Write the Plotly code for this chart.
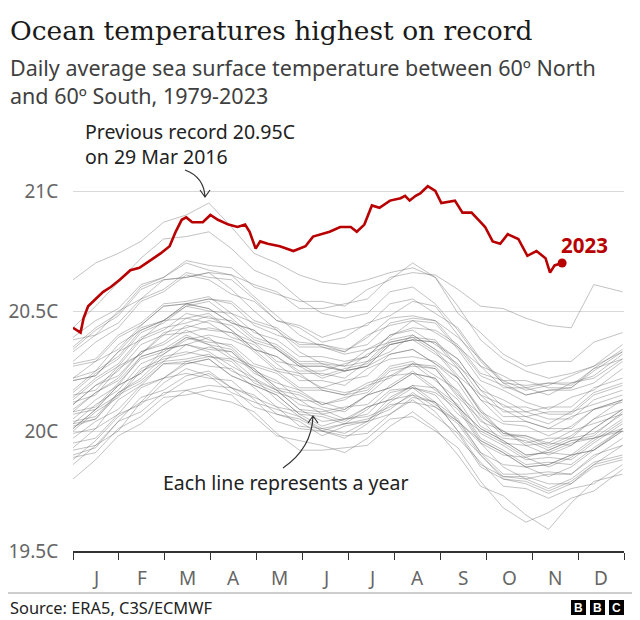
import plotly.graph_objects as go

# ---------------- data ----------------
DAYS = [0, 15, 30, 45, 60, 75, 90, 105, 120, 135, 150, 165, 180, 195, 210,
        225, 240, 255, 270, 285, 300, 315, 330, 345, 364]
MONTHS = ["J", "F", "M", "A", "M", "J", "J", "A", "S", "O", "N", "D"]
Y_TICKS = [19.5, 20, 20.5, 21]
Y_TICK_TEXT = ["19.5C", "20C", "20.5C", "21C"]

y1979 = [19.88,19.96,20.06,20.12,20.22,20.24,20.22,20.21,20.13,20.04,20.01,20.00,19.97,20.03,20.11,20.12,20.10,20.03,19.90,19.81,19.81,19.78,19.78,19.86,19.94]
y1980 = [19.99,20.01,20.13,20.19,20.28,20.28,20.30,20.23,20.19,20.15,20.07,20.02,20.05,20.07,20.16,20.18,20.11,20.04,19.95,19.85,19.80,19.82,19.82,19.90,19.94]
y1981 = [19.95,19.97,20.07,20.11,20.20,20.26,20.23,20.16,20.12,20.09,20.06,20.00,19.98,19.99,20.07,20.14,20.12,20.00,19.86,19.81,19.80,19.76,19.80,19.87,19.90]
y1982 = [19.90,19.93,20.04,20.08,20.16,20.17,20.19,20.18,20.10,20.07,20.04,19.98,20.02,20.04,20.14,20.19,20.18,20.07,20.00,19.95,19.89,19.92,19.96,19.98,20.08]
y1983 = [20.11,20.19,20.23,20.33,20.36,20.42,20.38,20.35,20.26,20.18,20.11,20.09,20.05,20.10,20.13,20.15,20.12,20.00,19.90,19.80,19.78,19.74,19.78,19.85,19.88]
y1984 = [19.89,19.91,20.01,20.06,20.14,20.15,20.17,20.15,20.06,19.98,19.96,19.94,19.91,19.97,20.05,20.06,20.00,19.93,19.79,19.68,19.62,19.66,19.72,19.75,19.84]
y1985 = [19.80,19.88,19.98,20.03,20.11,20.17,20.14,20.12,20.08,19.99,19.92,19.92,19.93,19.94,20.02,20.08,20.01,19.90,19.77,19.73,19.65,19.59,19.70,19.79,19.82]
y1986 = [19.92,19.94,20.04,20.14,20.17,20.23,20.25,20.18,20.14,20.10,20.02,20.01,20.03,20.04,20.12,20.18,20.15,20.04,19.96,19.91,19.85,19.86,19.90,19.92,20.00]
y1987 = [20.01,20.09,20.19,20.24,20.34,20.36,20.39,20.31,20.27,20.24,20.17,20.17,20.15,20.17,20.26,20.28,20.27,20.16,20.02,19.97,19.96,19.92,19.96,19.97,20.01]
y1988 = [20.05,20.13,20.19,20.31,20.34,20.40,20.36,20.30,20.22,20.17,20.09,20.04,20.05,20.06,20.10,20.15,20.08,19.97,19.87,19.77,19.76,19.72,19.76,19.78,19.86]
y1989 = [19.86,19.94,20.00,20.12,20.15,20.21,20.24,20.18,20.15,20.07,20.05,20.00,20.03,20.05,20.09,20.16,20.10,20.04,19.91,19.82,19.82,19.83,19.82,19.89,19.97]
y1990 = [20.00,20.08,20.14,20.25,20.29,20.36,20.34,20.33,20.25,20.17,20.15,20.10,20.08,20.15,20.23,20.24,20.22,20.10,20.01,19.96,19.90,19.91,19.90,19.97,20.00]
y1991 = [20.02,20.05,20.16,20.22,20.31,20.33,20.31,20.30,20.26,20.18,20.16,20.11,20.14,20.16,20.25,20.27,20.26,20.15,20.07,19.98,19.98,19.95,20.00,20.03,20.07]
y1992 = [20.09,20.16,20.21,20.31,20.34,20.36,20.33,20.27,20.22,20.13,20.06,20.01,19.99,20.04,20.07,20.13,20.06,19.99,19.85,19.80,19.79,19.75,19.79,19.86,19.89]
y1993 = [19.93,20.01,20.07,20.18,20.22,20.29,20.27,20.26,20.18,20.10,20.08,20.07,20.04,20.10,20.13,20.19,20.12,20.05,19.91,19.86,19.85,19.81,19.85,19.92,20.01]
y1994 = [20.03,20.05,20.15,20.20,20.28,20.29,20.31,20.29,20.20,20.16,20.13,20.07,20.09,20.15,20.18,20.24,20.22,20.10,20.01,19.96,19.90,19.91,19.95,19.97,20.05]
y1995 = [20.08,20.10,20.20,20.30,20.33,20.39,20.36,20.34,20.25,20.21,20.13,20.12,20.09,20.15,20.18,20.24,20.17,20.10,19.96,19.91,19.85,19.86,19.90,19.92,20.00]
y1996 = [19.97,20.04,20.09,20.19,20.22,20.28,20.30,20.23,20.19,20.15,20.07,20.06,20.03,20.09,20.17,20.18,20.16,20.09,19.95,19.90,19.89,19.85,19.89,19.96,20.04]
y1997 = [20.07,20.09,20.19,20.24,20.32,20.38,20.40,20.38,20.34,20.31,20.25,20.25,20.28,20.31,20.40,20.43,20.42,20.36,20.24,20.21,20.17,20.19,20.23,20.27,20.36]
y1998 = [20.39,20.46,20.51,20.61,20.64,20.70,20.67,20.65,20.56,20.48,20.40,20.35,20.32,20.34,20.37,20.39,20.33,20.22,20.08,19.99,19.97,19.93,19.97,19.99,20.07]
y1999 = [20.04,20.06,20.16,20.21,20.29,20.30,20.32,20.25,20.21,20.17,20.09,20.08,20.10,20.11,20.19,20.25,20.18,20.11,19.97,19.92,19.86,19.87,19.86,19.93,20.01]
y2000 = [20.01,20.09,20.15,20.26,20.30,20.32,20.35,20.33,20.24,20.20,20.17,20.11,20.13,20.19,20.22,20.28,20.26,20.14,20.05,19.95,19.94,19.90,19.94,20.01,20.09]
y2001 = [20.15,20.17,20.27,20.32,20.40,20.47,20.45,20.39,20.36,20.28,20.21,20.21,20.19,20.26,20.30,20.31,20.29,20.22,20.08,20.03,20.02,19.98,20.02,20.09,20.12]
y2002 = [20.13,20.21,20.27,20.38,20.42,20.49,20.47,20.46,20.38,20.35,20.28,20.23,20.26,20.28,20.37,20.39,20.38,20.27,20.19,20.10,20.10,20.07,20.07,20.15,20.19]
y2003 = [20.22,20.25,20.36,20.42,20.46,20.53,20.51,20.45,20.42,20.34,20.27,20.27,20.25,20.27,20.36,20.38,20.32,20.26,20.13,20.04,20.04,20.01,20.01,20.09,20.13]
y2004 = [20.14,20.22,20.28,20.39,20.43,20.45,20.48,20.42,20.34,20.31,20.24,20.24,20.22,20.29,20.33,20.40,20.34,20.23,20.15,20.06,20.06,20.03,20.08,20.11,20.15]
y2005 = [20.17,20.25,20.31,20.42,20.46,20.53,20.51,20.45,20.42,20.34,20.27,20.27,20.25,20.32,20.36,20.38,20.37,20.26,20.13,20.09,20.04,20.01,20.06,20.09,20.13]
y2006 = [20.11,20.19,20.25,20.36,20.40,20.41,20.43,20.41,20.37,20.29,20.27,20.22,20.25,20.27,20.36,20.38,20.37,20.30,20.17,20.13,20.08,20.10,20.10,20.18,20.22]
y2007 = [20.21,20.23,20.33,20.38,20.46,20.47,20.49,20.42,20.34,20.26,20.24,20.17,20.15,20.20,20.23,20.28,20.21,20.13,19.99,19.94,19.88,19.89,19.88,19.95,20.03]
y2008 = [20.03,20.11,20.17,20.28,20.32,20.39,20.37,20.36,20.28,20.25,20.18,20.18,20.16,20.18,20.27,20.29,20.23,20.17,20.04,20.00,19.95,19.97,19.97,20.05,20.09]
y2009 = [20.12,20.15,20.26,20.32,20.41,20.43,20.46,20.44,20.37,20.34,20.28,20.28,20.27,20.34,20.39,20.46,20.41,20.35,20.23,20.19,20.15,20.17,20.18,20.25,20.33]
y2010 = [20.34,20.42,20.48,20.59,20.63,20.64,20.66,20.59,20.50,20.42,20.33,20.28,20.25,20.27,20.32,20.34,20.28,20.20,20.06,20.00,19.94,19.95,19.94,20.01,20.09]
y2011 = [20.08,20.16,20.22,20.33,20.37,20.44,20.42,20.41,20.33,20.25,20.23,20.18,20.21,20.23,20.32,20.34,20.28,20.22,20.09,19.99,19.98,19.94,19.98,20.05,20.13]
y2012 = [20.16,20.24,20.30,20.41,20.45,20.52,20.50,20.49,20.41,20.38,20.31,20.31,20.29,20.31,20.40,20.42,20.36,20.30,20.17,20.08,20.08,20.05,20.05,20.13,20.17]
y2013 = [20.21,20.23,20.33,20.43,20.46,20.52,20.54,20.47,20.39,20.36,20.29,20.29,20.27,20.29,20.38,20.40,20.34,20.28,20.15,20.11,20.06,20.08,20.08,20.16,20.20]
y2014 = [20.22,20.29,20.34,20.44,20.52,20.53,20.55,20.53,20.44,20.40,20.37,20.36,20.33,20.39,20.47,20.48,20.46,20.39,20.30,20.20,20.19,20.20,20.19,20.26,20.34]
y2015 = [20.33,20.40,20.45,20.55,20.63,20.64,20.66,20.65,20.61,20.58,20.51,20.51,20.53,20.55,20.64,20.66,20.65,20.59,20.52,20.51,20.47,20.44,20.43,20.61,20.58]
y2016 = [20.63,20.70,20.74,20.79,20.87,20.90,20.95,20.85,20.74,20.70,20.65,20.62,20.61,20.63,20.66,20.68,20.64,20.52,20.38,20.30,20.25,20.22,20.24,20.27,20.33]
y2017 = [20.38,20.40,20.50,20.55,20.59,20.66,20.64,20.63,20.55,20.46,20.43,20.37,20.39,20.45,20.48,20.54,20.52,20.40,20.27,20.23,20.18,20.20,20.20,20.22,20.30]
y2018 = [20.27,20.29,20.39,20.44,20.52,20.53,20.55,20.54,20.46,20.43,20.36,20.36,20.34,20.36,20.45,20.47,20.46,20.35,20.27,20.18,20.18,20.15,20.20,20.23,20.32]
y2019 = [20.35,20.43,20.49,20.60,20.64,20.71,20.69,20.68,20.60,20.57,20.54,20.54,20.52,20.59,20.63,20.70,20.64,20.49,20.41,20.32,20.27,20.29,20.29,20.37,20.41]
y2020 = [20.43,20.52,20.62,20.72,20.80,20.81,20.83,20.76,20.67,20.63,20.55,20.49,20.47,20.49,20.58,20.60,20.53,20.42,20.29,20.20,20.15,20.17,20.17,20.20,20.29]
y2021 = [20.28,20.30,20.40,20.45,20.53,20.54,20.56,20.49,20.45,20.42,20.35,20.35,20.33,20.40,20.44,20.46,20.45,20.34,20.21,20.17,20.12,20.09,20.14,20.17,20.26]
y2022 = [20.29,20.37,20.43,20.54,20.58,20.65,20.63,20.57,20.54,20.46,20.44,20.39,20.42,20.44,20.53,20.55,20.49,20.43,20.30,20.21,20.21,20.18,20.18,20.26,20.30]

PAST_YEARS = [y1979, y1980, y1981, y1982, y1983, y1984, y1985, y1986, y1987,
              y1988, y1989, y1990, y1991, y1992, y1993, y1994, y1995, y1996,
              y1997, y1998, y1999, y2000, y2001, y2002, y2003, y2004, y2005,
              y2006, y2007, y2008, y2009, y2010, y2011, y2012, y2013, y2014,
              y2015, y2016, y2017, y2018, y2019, y2020, y2021, y2022]

DAYS_2023 = [0,3,5,7,10,15,20,25,31,38,44,51,58,64,68,72,75,79,86,91,96,103,
             109,114,117,121,124,129,137,146,150,154,159,164,170,177,184,188,
             193,198,203,210,217,220,223,227,230,235,240,244,253,258,264,270,
             273,278,283,288,295,301,307,313,316,319,324]
TEMP_2023 = [20.43,20.42,20.41,20.47,20.52,20.55,20.58,20.60,20.63,20.67,20.68,
             20.71,20.74,20.77,20.83,20.88,20.89,20.87,20.87,20.90,20.88,20.86,
             20.85,20.86,20.83,20.76,20.79,20.78,20.77,20.75,20.76,20.77,20.81,
             20.82,20.83,20.85,20.85,20.83,20.86,20.94,20.93,20.96,20.97,20.98,
             20.96,20.98,20.99,21.02,21.00,20.95,20.96,20.91,20.91,20.87,20.85,
             20.79,20.78,20.82,20.80,20.73,20.75,20.72,20.66,20.69,20.70]

# ---------------- layout constants ----------------
# The page body has an 8px margin, so the figure is 8px smaller and every
# position below is given in page pixels of the 640x620 window.
OFF = 8
W, H = 640 - OFF, 620 - OFF
PL, PR, PT, PB = 73, 624, 107, 551          # plot area in page pixels
ML, MR, MT, MB = PL - OFF, 640 - PR, PT - OFF, 620 - PB
PW, PH = PR - PL, PB - PT
YMIN, YMAX = 19.5, 21.35
RED = "#b80000"
SANS = "Noto Sans, Open Sans, sans-serif"


def px(xp):
    return (xp - PL) / PW


def py(yp):
    return (PB - yp) / PH


def dx(xp):  # page pixel -> day
    return (xp - PL) / PW * 365


def dy(yp):  # page pixel -> temperature
    return YMAX - (yp - PT) / PH * (YMAX - YMIN)


fig = go.Figure()
for vals in PAST_YEARS:
    fig.add_trace(go.Scatter(x=DAYS, y=vals, mode="lines",
                             line=dict(color="rgba(95,95,95,0.38)", width=1),
                             hoverinfo="skip", showlegend=False))
fig.add_trace(go.Scatter(x=DAYS_2023, y=TEMP_2023, mode="lines",
                         line=dict(color=RED, width=2.6),
                         hoverinfo="skip", showlegend=False))
fig.add_trace(go.Scatter(x=DAYS_2023[-1:], y=TEMP_2023[-1:], mode="markers",
                         marker=dict(color=RED, size=9),
                         hoverinfo="skip", showlegend=False))

month_edges = [i * 365 / 12 for i in range(13)]
annotations = []
for i, m in enumerate(MONTHS):
    annotations.append(dict(x=(i + 0.5) * 365 / 12, xref="x", y=py(578), yref="paper",
                            text=m, showarrow=False, xanchor="center", yanchor="middle",
                            font=dict(family=SANS, size=19, color="#666666")))


def label(xp, yp, text, size, color="#222222", family=SANS):
    return dict(x=px(xp), y=py(yp), xref="paper", yref="paper", xanchor="left",
                yanchor="middle", align="left", showarrow=False, text=text,
                font=dict(family=family, size=size, color=color))


annotations += [
    label(8, 31, "Ocean temperatures highest on record", 26.5, "#1a1a1a",
          "DejaVu Serif, serif"),
    label(8, 67, "Daily average sea surface temperature between 60º North", 21.5, "#404040"),
    label(8, 95, "and 60º South, 1979-2023", 21.5, "#404040"),
    label(83, 131, "Previous record 20.95C", 19.5),
    label(83, 156, "on 29 Mar 2016", 19.5),
    label(161, 482, "Each line represents a year", 19.5),
    label(559, 245, "<b>2023</b>", 20.5, RED),
    label(8, 607, "Source: ERA5, C3S/ECMWF", 16.4),
]

shapes = []
# curved arrows
a1 = (f"M {dx(185)},{dy(170)} Q {dx(204)},{dy(177)} {dx(205)},{dy(197)} "
      f"M {dx(200)},{dy(190)} L {dx(205)},{dy(197)} L {dx(210)},{dy(190)}")
a2 = (f"M {dx(283)},{dy(468)} Q {dx(312)},{dy(448)} {dx(313)},{dy(416)} "
      f"M {dx(308)},{dy(423)} L {dx(313)},{dy(416)} L {dx(318)},{dy(423)}")
for p in (a1, a2):
    shapes.append(dict(type="path", path=p, xref="x", yref="y",
                       line=dict(color="#333333", width=1.2)))
# bottom rule
shapes.append(dict(type="line", xref="paper", yref="paper", x0=px(OFF), x1=px(640),
                   y0=py(593), y1=py(593), line=dict(color="#9a9a9a", width=1)))
# BBC blocks
for x0, letter in ((571, "B"), (590, "B"), (609, "C")):
    shapes.append(dict(type="rect", xref="paper", yref="paper", x0=px(x0), x1=px(x0 + 15),
                       y0=py(600), y1=py(615), fillcolor="#000000", line=dict(width=0)))
    annotations.append(dict(x=px(x0 + 7.5), y=py(607.5), xref="paper", yref="paper",
                            text=f"<b>{letter}</b>", showarrow=False, xanchor="center",
                            yanchor="middle",
                            font=dict(family="Liberation Sans, Arial", size=12, color="#ffffff")))

fig.update_layout(
    width=W, height=H, margin=dict(l=ML, r=MR, t=MT, b=MB, autoexpand=False),
    paper_bgcolor="white", plot_bgcolor="white",
    showlegend=False, annotations=annotations, shapes=shapes,
    xaxis=dict(range=[0, 365], tickmode="array", tickvals=month_edges,
               showticklabels=False, ticks="outside", ticklen=7, tickwidth=1,
               tickcolor="#333333", showline=True, linecolor="#333333", linewidth=1.5,
               showgrid=False, zeroline=False, fixedrange=True, automargin=False),
    yaxis=dict(range=[YMIN, YMAX], tickmode="array", tickvals=Y_TICKS, ticktext=Y_TICK_TEXT,
               showgrid=True, gridcolor="#d9d9d9", gridwidth=1, zeroline=False,
               ticks="outside", ticklen=10, tickcolor="rgba(0,0,0,0)",
               tickfont=dict(family=SANS, size=19, color="#666666"),
               showline=False, fixedrange=True, automargin=False),
)

fig.write_html("out.html")
